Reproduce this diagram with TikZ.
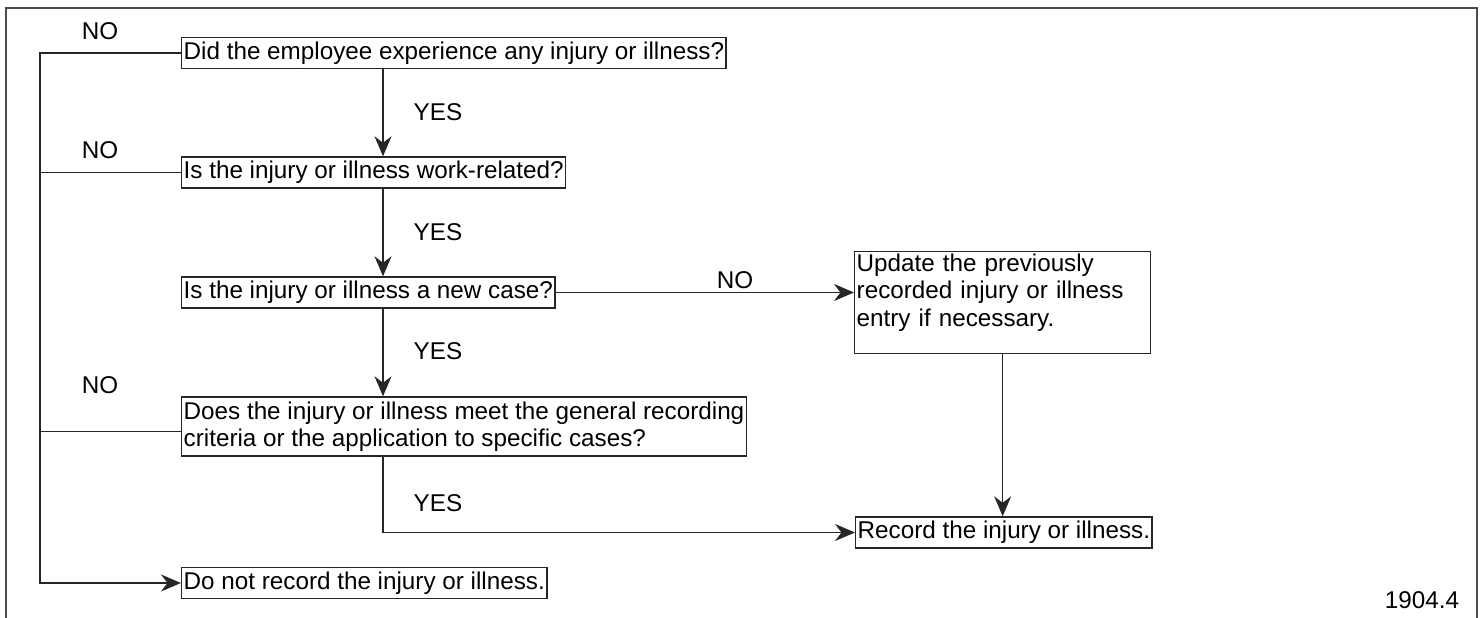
\documentclass[tikz,border=0pt]{standalone}
\usepackage{fontspec}
\setmainfont{Liberation Sans}
\usetikzlibrary{arrows.meta}

\begin{document}
\begin{tikzpicture}[x=0.02cm, y=-0.02cm, font=\fontsize{13.8pt}{15.6pt}\selectfont]

  \tikzstyle{question}=[draw=black!85, line width=0.8pt, inner sep=0.04cm, minimum height=0.62cm, anchor=west]
  \tikzstyle{answer}=[inner sep=0pt]
  \tikzstyle{arc}=[-{Stealth[length=0.4cm,width=0.34cm]}, line width=0.8pt, black!85]
  \tikzstyle{arc2}=[line width=0.8pt, black!85]
  \tikzstyle{frame}=[line width=1.3pt, black!70]

  \useasboundingbox (0,0) rectangle (1481,618);
  \draw[frame] (6,618) -- (6,8) -- (1477,8) -- (1477,618);

  % placement of the boxes
  \node[question] (q1) at (181,53) {Did the employee experience any injury or illness?};
  \node[question] (q2) at (181,172.5) {Is the injury or illness work-related?};
  \node[question] (q3) at (181,292.5) {Is the injury or illness a new case?};
  \node[question, align=left, minimum height=1.18cm] (q4) at (181,426.5) {Does the injury or illness meet the general recording\\criteria or the application to specific cases?};
  \node[question, anchor=north west, text width=5.84cm, align=left, text depth=1.6cm] (upd) at (854,251) {Update the previously\\recorded injury or illness\\entry if necessary.};
  \node[question] (rec) at (855,532.5) {Record the injury or illness.};
  \node[question] (norec) at (181,583) {Do not record the injury or illness.};

  \coordinate (bus) at (40,0);
  \coordinate (spine) at (383,0);

  % connectors
  \draw[arc] (q1.west) -- (q1.west -| bus) |- (norec.west);
  \draw[arc2] (q2.west) -- (q2.west -| bus);
  \draw[arc2] ([yshift=-0.1cm]q4.west) -- ([yshift=-0.1cm]q4.west -| bus);
  \draw[arc] (q1.south -| spine) -- (q2.north -| spine);
  \draw[arc] (q2.south -| spine) -- (q3.north -| spine);
  \draw[arc] (q3.south -| spine) -- (q4.north -| spine);
  \draw[arc] (q4.south -| spine) |- (rec.west);
  \draw[arc] (q3.east) -- (q3.east -| upd.west);
  \draw[arc] (upd.south) -- (upd.south |- rec.north);

  % answers
  \node[answer] (no1) at (100,31) {NO};
  \node[answer] (no2) at (100,150) {NO};
  \node[answer] (no3) at (100,385) {NO};
  \node[answer] (no4) at (735,280) {NO};
  \node[answer] (yes1) at (438,112) {YES};
  \node[answer] (yes2) at (438,232) {YES};
  \node[answer] (yes3) at (438,351) {YES};
  \node[answer] (yes4) at (438,503) {YES};
  \node[answer] (fig) at (1422,600) {1904.4};

\end{tikzpicture}
\end{document}
